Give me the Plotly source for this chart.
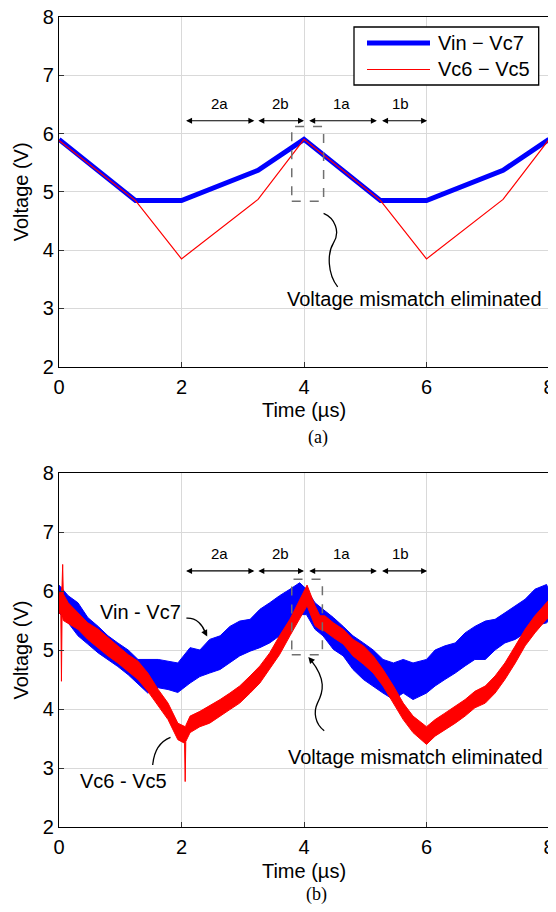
import plotly.graph_objects as go

# ---- (a) simulation ----
sim_t = [0, 1.25, 2, 3.25, 4, 5.25, 6, 7.25, 8]
sim_vin_vc7 = [5.9, 4.85, 4.85, 5.37, 5.9, 4.85, 4.85, 5.37, 5.9]
sim_vc6_vc5 = [5.88, 4.85, 3.85, 4.87, 5.9, 4.85, 3.85, 4.87, 5.9]

meas_t_blue = [0, 0.15, 0.31, 0.47, 0.64, 0.8, 0.96, 1.13, 1.29, 1.45, 1.62, 1.78, 1.94,
               2.14, 2.3, 2.46, 2.63, 2.79, 2.95, 3.12, 3.28, 3.44, 3.6, 3.77, 3.93, 4.04,
               4.18, 4.31, 4.48, 4.64, 4.8, 4.97, 5.13, 5.29, 5.46, 5.62, 5.78, 6.0, 6.14,
               6.3, 6.47, 6.63, 6.79, 6.96, 7.12, 7.28, 7.45, 7.61, 7.77, 7.96, 8.0]
blue_upper = [6.1, 5.92, 5.8, 5.55, 5.4, 5.24, 5.12, 5.0, 4.84, 4.84, 4.84, 4.81, 4.78,
              5.04, 5.0, 5.18, 5.24, 5.4, 5.49, 5.52, 5.69, 5.8, 5.92, 6.03, 6.14, 6.03,
              5.8, 5.69, 5.55, 5.4, 5.24, 5.12, 5.0, 4.84, 4.78, 4.84, 4.78, 4.84, 5.0,
              5.07, 5.12, 5.29, 5.4, 5.49, 5.52, 5.63, 5.75, 5.86, 6.03, 6.11, 6.0]
blue_lower = [5.63, 5.46, 5.24, 5.1, 4.95, 4.84, 4.72, 4.58, 4.42, 4.27, 4.36, 4.33, 4.28,
              4.44, 4.55, 4.61, 4.67, 4.78, 4.9, 4.98, 5.04, 5.12, 5.24, 5.41, 5.6, 5.6,
              5.35, 5.24, 5.01, 4.9, 4.67, 4.5, 4.39, 4.27, 4.16, 4.27, 4.16, 4.27, 4.39,
              4.5, 4.61, 4.73, 4.84, 4.84, 5.0, 5.12, 5.18, 5.29, 5.41, 5.46, 5.5]

meas_t_red = [0, 0.03, 0.04, 0.05, 0.06, 0.07, 0.15, 0.31, 0.47, 0.64, 0.8, 0.96, 1.13,
              1.29, 1.45, 1.62, 1.78, 1.94, 2.05, 2.06, 2.07, 2.14, 2.3, 2.46, 2.63, 2.79,
              2.95, 3.12, 3.28, 3.44, 3.6, 3.77, 3.93, 4.05, 4.18, 4.26, 4.34, 4.48, 4.64,
              4.8, 4.97, 5.13, 5.29, 5.46, 5.62, 5.78, 6.0, 6.14, 6.3, 6.47, 6.63, 6.79,
              6.96, 7.12, 7.28, 7.45, 7.61, 7.77, 7.96, 8.0]
red_upper = [5.97, 5.97, 6.0, 6.1, 6.45, 5.95, 5.8, 5.63, 5.46, 5.35, 5.21, 5.07, 4.92,
             4.81, 4.61, 4.33, 4.1, 3.76, 3.7, 3.7, 3.72, 3.88, 3.96, 4.05, 4.16, 4.27,
             4.39, 4.56, 4.73, 4.95, 5.24, 5.52, 5.86, 6.1, 5.75, 5.58, 5.58, 5.46, 5.35,
             5.18, 5.07, 4.9, 4.67, 4.39, 4.1, 3.88, 3.7, 3.82, 3.93, 4.05, 4.16, 4.3,
             4.39, 4.56, 4.78, 5.07, 5.35, 5.58, 5.8, 5.85]
red_lower = [5.63, 5.6, 4.47, 5.58, 5.55, 5.5, 5.46, 5.35, 5.18, 5.04, 4.9, 4.78, 4.64,
             4.5, 4.3, 4.05, 3.82, 3.48, 3.42, 2.77, 3.45, 3.6, 3.7, 3.76, 3.88, 3.99,
             4.1, 4.27, 4.44, 4.67, 4.92, 5.24, 5.52, 5.75, 5.41, 5.35, 5.32, 5.21, 5.1,
             4.9, 4.76, 4.61, 4.39, 4.1, 3.82, 3.6, 3.4, 3.54, 3.65, 3.76, 3.88, 4.02,
             4.1, 4.27, 4.5, 4.78, 5.07, 5.29, 5.52, 5.55]

# interval labels and arrow spans
phase_labels = ["2a", "2b", "1a", "1b"]
phase_start = [2.05, 3.23, 4.06, 5.25]
phase_end = [3.19, 4.0, 5.19, 6.01]
phase_label_x = [2.62, 3.62, 4.62, 5.58]

BLUE = "#0000ff"
RED = "#ff0000"
FONT = "Liberation Sans, Arial, sans-serif"

# the page body has an 8px margin, so the figure sits at (8, 8) in the window;
# keep the page no taller than the window so no scrollbar eats the right edge
OFF = 8
W, H = 556 - OFF, 912 - 2 * OFF
L, R, T, B = 59 - OFF, W - (549 - OFF), 17 - OFF, H - (827 - OFF)


def px(x):
    # window pixel -> paper x
    return (x - OFF - L) / (W - L - R)


def py(y):
    # window pixel -> paper y
    return (H - B - (y - OFF)) / (H - T - B)


fig = go.Figure()

# top panel
fig.add_trace(go.Scatter(x=sim_t, y=sim_vin_vc7, mode="lines", line=dict(color=BLUE, width=5),
                         xaxis="x", yaxis="y", showlegend=False))
fig.add_trace(go.Scatter(x=sim_t, y=sim_vc6_vc5, mode="lines", line=dict(color=RED, width=1.2),
                         xaxis="x", yaxis="y", showlegend=False))

# bottom panel: bands
fig.add_trace(go.Scatter(x=meas_t_blue + meas_t_blue[::-1], y=blue_upper + blue_lower[::-1],
                         mode="lines", fill="toself", fillcolor=BLUE, line=dict(color=BLUE, width=1),
                         xaxis="x2", yaxis="y2", showlegend=False))
fig.add_trace(go.Scatter(x=meas_t_red + meas_t_red[::-1], y=red_upper + red_lower[::-1],
                         mode="lines", fill="toself", fillcolor=RED, line=dict(color=RED, width=1),
                         xaxis="x2", yaxis="y2", showlegend=False))

axis_common = dict(range=[0, 8], dtick=2, showline=True, linecolor="black", linewidth=1.3,
                   mirror=True, ticks="inside", ticklen=5, tickcolor="#333", automargin=False,
                   showgrid=True, gridcolor="#d9d9d9", gridwidth=1, zeroline=False,
                   ticklabelstandoff=2, ticklabeloverflow="allow",
                   tickfont=dict(family=FONT, size=20, color="black"))
yaxis_common = dict(range=[2, 8], dtick=1, showline=True, linecolor="black", linewidth=1.3,
                    mirror=True, ticks="inside", ticklen=5, tickcolor="#333", automargin=False,
                    showgrid=True, gridcolor="#d9d9d9", gridwidth=1, zeroline=False,
                    ticklabeloverflow="allow",
                    tickfont=dict(family=FONT, size=20, color="black"))

top_dom = [py(366.7), 1.0]
bot_dom = [0.0, py(473)]

title_font = dict(family=FONT, size=20, color="black")
fig.update_layout(
    width=W, height=H,
    margin=dict(l=L, r=R, t=T, b=B),
    paper_bgcolor="white", plot_bgcolor="white",
    xaxis=dict(axis_common, domain=[0, 1], anchor="y",
               title=dict(text="Time (µs)", font=title_font, standoff=6)),
    yaxis=dict(yaxis_common, domain=top_dom, anchor="x",
               title=dict(text="Voltage (V)", font=title_font, standoff=8)),
    xaxis2=dict(axis_common, domain=[0, 1], anchor="y2",
                title=dict(text="Time (µs)", font=title_font, standoff=6)),
    yaxis2=dict(yaxis_common, domain=bot_dom, anchor="x2",
                title=dict(text="Voltage (V)", font=title_font, standoff=8)),
)

annotations = []
shapes = []


def add_phase_arrows(xr, yr, y_arrow, y_text):
    for lab, x0, x1, xl in zip(phase_labels, phase_start, phase_end, phase_label_x):
        annotations.append(dict(x=x1, y=y_arrow, ax=x0, ay=y_arrow, xref=xr, yref=yr,
                                axref=xr, ayref=yr, text="", showarrow=True,
                                arrowhead=2, arrowside="end+start", arrowsize=1,
                                arrowwidth=1.2, arrowcolor="black"))
        annotations.append(dict(x=xl, y=y_text, xref=xr, yref=yr, text=lab, showarrow=False,
                                font=dict(family=FONT, size=15, color="black")))


def add_curve_arrow(xr, yr, path, tip, tail):
    shapes.append(dict(type="path", path=path, xref=xr, yref=yr,
                       line=dict(color="black", width=1.3)))
    annotations.append(dict(x=tip[0], y=tip[1], ax=tail[0], ay=tail[1], xref=xr, yref=yr,
                            axref=xr, ayref=yr, text="", showarrow=True, arrowhead=2,
                            arrowsize=1, arrowwidth=1.3, arrowcolor="black"))


# top panel decorations
add_phase_arrows("x", "y", 6.22, 6.52)
shapes.append(dict(type="rect", xref="x", yref="y", x0=3.8, x1=4.32, y0=4.84, y1=6.12,
                   line=dict(color="#707070", width=1.5, dash="dash")))
add_curve_arrow("x", "y", "M 4.55,3.37 C 4.38,3.6 4.38,3.95 4.48,4.12 C 4.6,4.32 4.5,4.55 4.32,4.63",
                (4.29, 4.66), (4.33, 4.62))
annotations.append(dict(x=5.8, y=3.16, xref="x", yref="y", text="Voltage mismatch eliminated",
                        showarrow=False, font=dict(family=FONT, size=20, color="black")))

# custom legend (top panel), paper coordinates
shapes.append(dict(type="rect", xref="paper", yref="paper", x0=px(354), x1=px(538.7),
                   y0=py(85), y1=py(27), line=dict(color="black", width=1.3), fillcolor="white"))
shapes.append(dict(type="line", xref="paper", yref="paper", x0=px(367), x1=px(430),
                   y0=py(43), y1=py(43), line=dict(color=BLUE, width=5)))
shapes.append(dict(type="line", xref="paper", yref="paper", x0=px(367), x1=px(430),
                   y0=py(69.5), y1=py(69.5), line=dict(color=RED, width=1.2)))
annotations.append(dict(x=px(436), y=py(43), xref="paper", yref="paper", text="Vin − Vc7",
                        xanchor="left", yanchor="middle", showarrow=False,
                        font=dict(family=FONT, size=20, color="black")))
annotations.append(dict(x=px(436), y=py(69.5), xref="paper", yref="paper", text="Vc6 − Vc5",
                        xanchor="left", yanchor="middle", showarrow=False,
                        font=dict(family=FONT, size=20, color="black")))

# bottom panel decorations
add_phase_arrows("x2", "y2", 6.34, 6.64)
shapes.append(dict(type="rect", xref="x2", yref="y2", x0=3.8, x1=4.3, y0=4.92, y1=6.2,
                   line=dict(color="#707070", width=1.5, dash="dash")))
add_curve_arrow("x2", "y2", "M 4.33,3.63 C 4.18,3.75 4.15,3.95 4.22,4.1 C 4.32,4.3 4.36,4.5 4.12,4.82",
                (4.07, 4.88), (4.12, 4.82))
annotations.append(dict(x=5.82, y=3.19, xref="x2", yref="y2", text="Voltage mismatch eliminated",
                        showarrow=False, font=dict(family=FONT, size=20, color="black")))
add_curve_arrow("x2", "y2", "M 2.08,5.54 C 2.25,5.55 2.35,5.42 2.39,5.29",
                (2.42, 5.23), (2.39, 5.29))
annotations.append(dict(x=1.33, y=5.65, xref="x2", yref="y2", text="Vin - Vc7",
                        showarrow=False, font=dict(family=FONT, size=20, color="black")))
add_curve_arrow("x2", "y2", "M 1.53,3.05 C 1.55,3.3 1.65,3.45 1.82,3.52",
                (1.87, 3.54), (1.82, 3.52))
annotations.append(dict(x=1.06, y=2.78, xref="x2", yref="y2", text="Vc6 - Vc5",
                        showarrow=False, font=dict(family=FONT, size=20, color="black")))

# subfigure captions
serif = dict(family="Liberation Serif, Times New Roman, serif", size=18, color="black")
annotations.append(dict(x=px(318), y=py(438), xref="paper", yref="paper", text="(a)",
                        xanchor="center", yanchor="middle", showarrow=False, font=serif))
annotations.append(dict(x=px(316), y=py(894), xref="paper", yref="paper", text="(b)",
                        xanchor="center", yanchor="middle", showarrow=False, font=serif))

fig.update_layout(annotations=annotations, shapes=shapes)

fig.write_html("out.html")
